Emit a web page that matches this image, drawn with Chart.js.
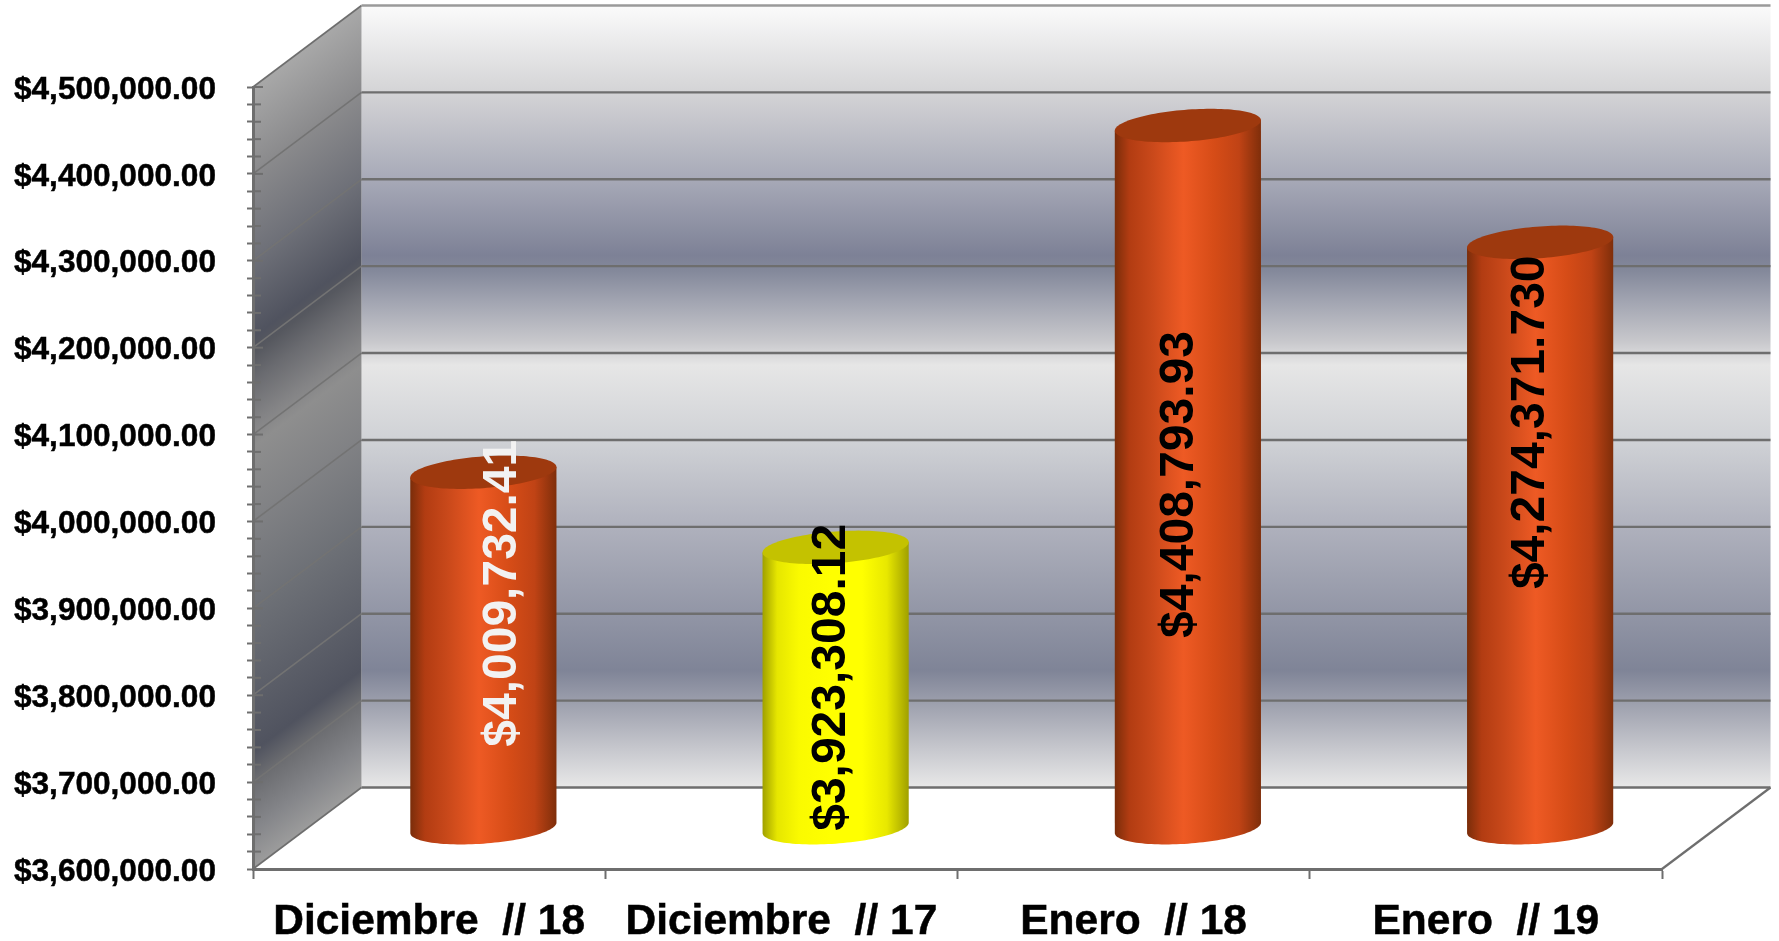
<!DOCTYPE html>
<html>
<head>
<meta charset="utf-8">
<title>Diciembre / Enero</title>
<script src="https://cdn.jsdelivr.net/npm/chart.js@4/dist/chart.umd.min.js"></script>
<style>
  html, body { margin: 0; padding: 0; background: #fff; overflow: hidden; }
  canvas { display: block; }
</style>
</head>
<body>
<canvas id="chart" width="1779" height="941"></canvas>
<script>
const categories = ["Diciembre  // 18", "Diciembre  // 17", "Enero  // 18", "Enero  // 19"];
const values = [4009732.41, 3923308.12, 4408793.93, 4274371.73];
const valueLabels = ["$4,009,732.41", "$3,923,308.12", "$4,408,793.93", "$4,274,371.730"];
const tickLabels = [
  "$3,600,000.00", "$3,700,000.00", "$3,800,000.00", "$3,900,000.00", "$4,000,000.00",
  "$4,100,000.00", "$4,200,000.00", "$4,300,000.00", "$4,400,000.00", "$4,500,000.00",
];
const yMin = 3600000;
const yMax = 4500000;
const yMajor = 100000;
const yMinor = 20000;

//colors of each cylinder: side stops from left to right, then the lid
const orange = { side: ["#7a2d0a", "#b23c12", "#c8481a", "#ee5a24", "#d64c17", "#c04315", "#7f2e0a"], lid: "#9e390e" };
const yellow = { side: ["#a0a000", "#e6e600", "#fafa00", "#ffff00", "#ffff00", "#e8e800", "#a0a000"], lid: "#c4c200" };
const barStyles = [orange, yellow, orange, orange];
const sideStops = [0, 0.1, 0.25, 0.47, 0.68, 0.85, 1];

//label colors and where the label sits from the top of its cylinder
const labelColors = ["#f2f2f2", "#000000", "#000000", "#000000"];
const labelShift = [[19, 121], [-4, 130], [-8, 359], [-9, 180]];

//walls: position along the wall height, back wall color, side wall color
const wallStops = [
  [0, "#fbfbfb", "#a8a8a8"],
  [0.11, "#d4d4d6", "#8a8a8c"],
  [0.22, "#a8aab8", "#6e7078"],
  [0.32, "#7d8196", "#50535f"],
  [0.34, "#84899b", "#56585f"],
  [0.376, "#a0a3b0", "#6a6b70"],
  [0.43, "#c8c8cc", "#838385"],
  [0.46, "#e6e6e6", "#8e8e8e"],
  [0.555, "#d0d2d6", "#808184"],
  [0.67, "#aeb0bc", "#6d7076"],
  [0.85, "#7f8497", "#50535f"],
  [0.888, "#9a9dab", "#6b6c70"],
  [0.95, "#c6c7cd", "#85868a"],
  [1, "#e8e8e8", "#9c9c9c"],
];

const lineColor = "#6e6e6e";
const depthX = 108.5;
const depthY = 81.5;

function wallGradient(ctx, top, bottom, col) {
  const g = ctx.createLinearGradient(0, top, 0, bottom);
  wallStops.forEach((s) => g.addColorStop(s[0], s[col]));
  return g;
}

function line(ctx, x1, y1, x2, y2, width, color) {
  ctx.strokeStyle = color;
  ctx.lineWidth = width;
  ctx.beginPath();
  ctx.moveTo(x1, y1);
  ctx.lineTo(x2, y2);
  ctx.stroke();
}

//Walls and gridlines, behind the axes
const wallsPlugin = {
  id: "walls",
  beforeDraw(chart) {
    const { ctx, chartArea: a, scales } = chart;
    const backTop = a.top - depthY;
    const backBottom = a.bottom - depthY;
    const backLeft = a.left + depthX;
    const backRight = a.right + depthX;
    ctx.save();
    ctx.fillStyle = wallGradient(ctx, backTop, backBottom, 1);
    ctx.fillRect(backLeft, backTop, backRight - backLeft, backBottom - backTop);

    //side wall: same bands, sheared along the depth
    ctx.save();
    ctx.transform(1, -depthY / depthX, 0, 1, backLeft, backTop);
    ctx.fillStyle = wallGradient(ctx, 0, backBottom - backTop, 2);
    ctx.fillRect(-depthX, 0, depthX, backBottom - backTop);
    ctx.restore();

    //gridlines over both walls
    for (let v = yMin; v <= yMax; v += yMajor) {
      const y = scales.y.getPixelForValue(v);
      line(ctx, a.left, y, backLeft, y - depthY, 1.6, v === yMin || v === yMax ? lineColor : "#737373");
      line(ctx, backLeft, y - depthY, backRight, y - depthY, 2.4, v === yMax ? "#9a9a9a" : lineColor);
    }
    line(ctx, a.right, a.bottom, backRight, backBottom, 2.2, lineColor);
    ctx.restore();
  },
  afterDraw(chart) {
    //inner part of the y ticks, on the side wall
    const { ctx, chartArea: a, scales } = chart;
    ctx.save();
    scales.y.ticks.forEach((t) => {
      const major = (t.value - yMin) % yMajor === 0;
      line(ctx, a.left, scales.y.getPixelForValue(t.value), a.left + (major ? 10 : 8), scales.y.getPixelForValue(t.value), 2, lineColor);
    });
    ctx.restore();
  },
};

function ellipsePoint(cx, cy, a, b, c, t) {
  return [cx + a * Math.cos(t) + b * Math.sin(t), cy - c * Math.sin(t)];
}

//The bars become cylinders standing at half depth
const cylinderPlugin = {
  id: "cylinders",
  beforeDatasetDraw(chart, args) {
    const { ctx } = chart;
    const bars = args.meta.data;
    ctx.save();
    bars.forEach((bar, i) => {
      const cx = bar.x + depthX / 2;
      const topY = bar.y - depthY / 2;
      const baseY = bar.base - depthY / 2;
      const half = bar.width / 2;
      const b = depthX * 0.21;
      const c = depthY * 0.205;
      const a = Math.sqrt(half * half - b * b);
      const t0 = Math.atan2(b, a);
      const style = barStyles[i];

      const g = ctx.createLinearGradient(cx - half, 0, cx + half, 0);
      style.side.forEach((col, k) => g.addColorStop(sideStops[k], col));
      ctx.fillStyle = g;
      ctx.beginPath();
      ctx.moveTo(...ellipsePoint(cx, topY, a, b, c, t0));
      for (let k = 0; k <= 60; k++) {
        ctx.lineTo(...ellipsePoint(cx, baseY, a, b, c, t0 - (Math.PI * k) / 60));
      }
      ctx.lineTo(...ellipsePoint(cx, topY, a, b, c, t0 - Math.PI));
      ctx.closePath();
      ctx.fill();

      ctx.fillStyle = style.lid;
      ctx.beginPath();
      for (let k = 0; k < 120; k++) {
        ctx.lineTo(...ellipsePoint(cx, topY, a, b, c, (Math.PI * k) / 60));
      }
      ctx.closePath();
      ctx.fill();
    });
    ctx.restore();
    return false;
  },
  afterDatasetsDraw(chart) {
    const { ctx } = chart;
    const bars = chart.getDatasetMeta(0).data;
    ctx.save();
    ctx.font = "bold 48px 'Liberation Sans', Arial, sans-serif";
    ctx.textAlign = "center";
    ctx.textBaseline = "middle";
    bars.forEach((bar, i) => {
      ctx.save();
      ctx.translate(bar.x + depthX / 2 + labelShift[i][0], bar.y - depthY / 2 + labelShift[i][1]);
      ctx.rotate(-Math.PI / 2);
      ctx.fillStyle = labelColors[i];
      ctx.fillText(valueLabels[i], 0, 0);
      ctx.restore();
    });
    ctx.restore();
  },
};

new Chart(document.getElementById("chart"), {
  type: "bar",
  plugins: [wallsPlugin, cylinderPlugin],
  data: {
    labels: categories,
    datasets: [
      {
        data: values,
        base: yMin,
        backgroundColor: ["#ee5a24", "#ffff00", "#ee5a24", "#ee5a24"],
        categoryPercentage: 1,
        barPercentage: 0.415,
      },
    ],
  },
  options: {
    responsive: false,
    animation: false,
    layout: { padding: { top: 87, right: 117, left: 0, bottom: 0 } },
    plugins: { legend: { display: false }, tooltip: { enabled: false } },
    scales: {
      x: {
        grid: { drawOnChartArea: false, drawTicks: true, tickLength: 10, tickWidth: 2, tickColor: lineColor },
        border: { display: true, color: lineColor, width: 3 },
        ticks: {
          color: "#000",
          maxRotation: 0,
          padding: 18,
          textStrokeColor: "#000",
          textStrokeWidth: 0.5,
          font: { family: "'Liberation Sans', Arial, sans-serif", weight: "bold", size: 42.5 },
        },
        afterFit: (scale) => { scale.height = 72; },
      },
      y: {
        min: yMin,
        max: yMax,
        grid: { drawOnChartArea: false, drawTicks: true, tickLength: 6, tickWidth: 2, tickColor: lineColor },
        border: { display: true, color: lineColor, width: 3 },
        ticks: {
          stepSize: yMinor,
          autoSkip: false,
          color: "#000",
          padding: 31,
          labelOffset: 3,
          textStrokeColor: "#000",
          textStrokeWidth: 0.5,
          font: { family: "'Liberation Sans', Arial, sans-serif", weight: "bold", size: 31.6 },
          callback: (v) => {
            const i = (v - yMin) / yMajor;
            return Number.isInteger(i) ? tickLabels[i] : "";
          },
        },
        afterFit: (scale) => { scale.width = 253; },
      },
    },
  },
});
</script>
</body>
</html>
